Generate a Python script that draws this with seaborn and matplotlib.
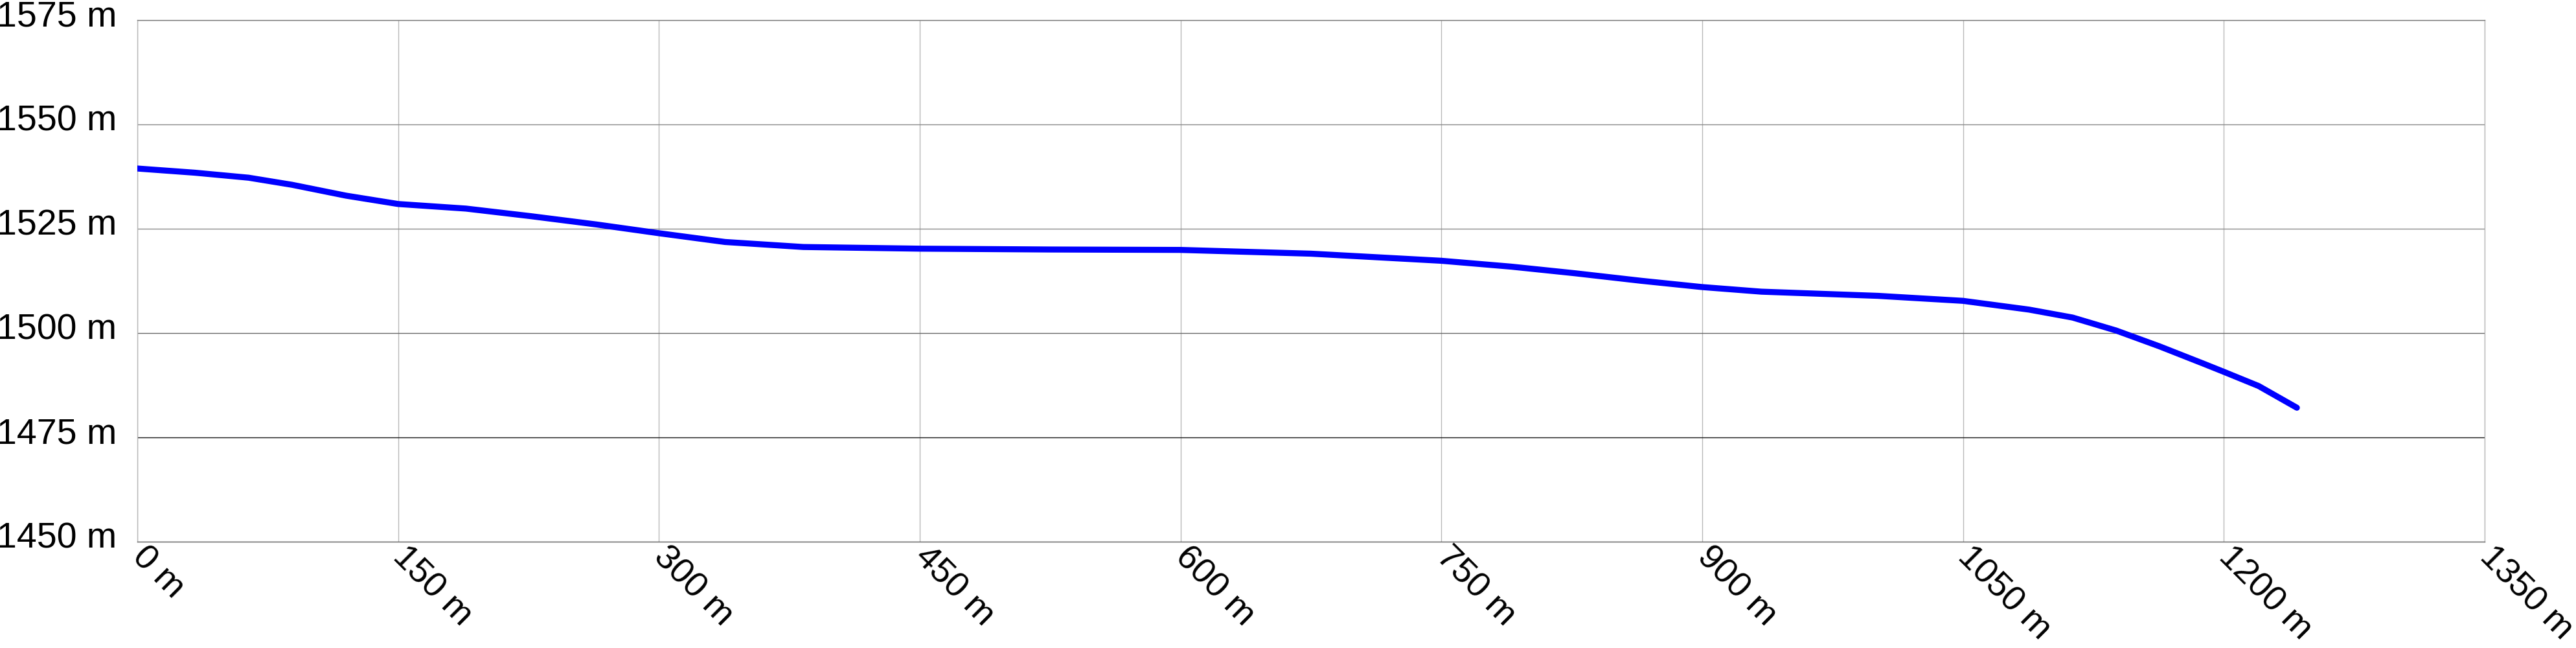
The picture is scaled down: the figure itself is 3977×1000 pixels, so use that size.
import numpy as np
import matplotlib
matplotlib.use('Agg')
import matplotlib.pyplot as plt
import matplotlib.transforms as mtransforms
import seaborn as sns

# elevation profile (distance in m, elevation in m)
distance = [0, 33, 64, 89, 120, 150, 189, 226, 264, 300, 338, 383, 450, 525,
            600, 675, 750, 790, 827, 865, 900, 934, 1001, 1050, 1088, 1113,
            1138, 1163, 1188, 1200, 1220, 1242]
elevation = [1539.4, 1538.4, 1537.2, 1535.5, 1532.9, 1530.9, 1529.8, 1528.0,
             1526.0, 1523.9, 1521.8, 1520.6, 1520.2, 1520.0, 1519.9, 1519.0,
             1517.3, 1515.9, 1514.3, 1512.5, 1511.0, 1509.9, 1508.9, 1507.7,
             1505.6, 1503.7, 1500.6, 1496.8, 1492.7, 1490.7, 1487.3, 1482.1]

x_ticks = [0, 150, 300, 450, 600, 750, 900, 1050, 1200, 1350]
y_ticks = [1450, 1475, 1500, 1525, 1550, 1575]

sns.set_theme(style='white')
plt.rcParams['font.family'] = ['Liberation Sans', 'DejaVu Sans']

fig = plt.figure(figsize=(39.77, 10), dpi=100)
ax = fig.add_axes([212 / 3977, 1 - 836 / 1000, (3836 - 212) / 3977, (836 - 30.7) / 1000])

sns.lineplot(x=distance, y=elevation, ax=ax, color='#0000ff', linewidth=6.7,
             solid_capstyle='round', solid_joinstyle='round', zorder=5)

ax.set_xlim(0, 1350)
ax.set_ylim(1450, 1575)
ax.set_xticks(x_ticks)
ax.set_yticks(y_ticks)
ax.set_xticklabels([f'{v} m' for v in x_ticks])
ax.set_yticklabels([f'{v} m' for v in y_ticks])
ax.set_xlabel('')
ax.set_ylabel('')

ax.grid(True, axis='x', color='#b8b8b8', linewidth=1.0)
ax.grid(True, axis='y', color='#8a8a8a', linewidth=1.0)
for v, gl in zip(y_ticks, ax.get_ygridlines()):
    if v == 1475:
        gl.set_color('#1a1a1a')
    elif v == 1500:
        gl.set_color('#666666')
ax.set_axisbelow(True)

ax.spines['left'].set_color('#b8b8b8')
ax.spines['right'].set_color('#b8b8b8')
ax.spines['top'].set_color('#777777')
ax.spines['bottom'].set_color('#666666')
for s in ax.spines.values():
    s.set_linewidth(1.0)

ax.tick_params(axis='both', length=0, labelcolor='black')
ax.tick_params(axis='y', pad=23, labelsize=40)
ax.tick_params(axis='x', pad=11, labelsize=39)

shift = mtransforms.ScaledTranslation(0, 10 / 100, fig.dpi_scale_trans)
for lab in ax.get_yticklabels():
    lab.set_transform(lab.get_transform() + shift)

for lab in ax.get_xticklabels():
    lab.set_rotation(-45)
    lab.set_ha('left')
    lab.set_va('center')
    lab.set_rotation_mode('anchor')

fig.savefig('out.png', dpi=100, facecolor='white')
